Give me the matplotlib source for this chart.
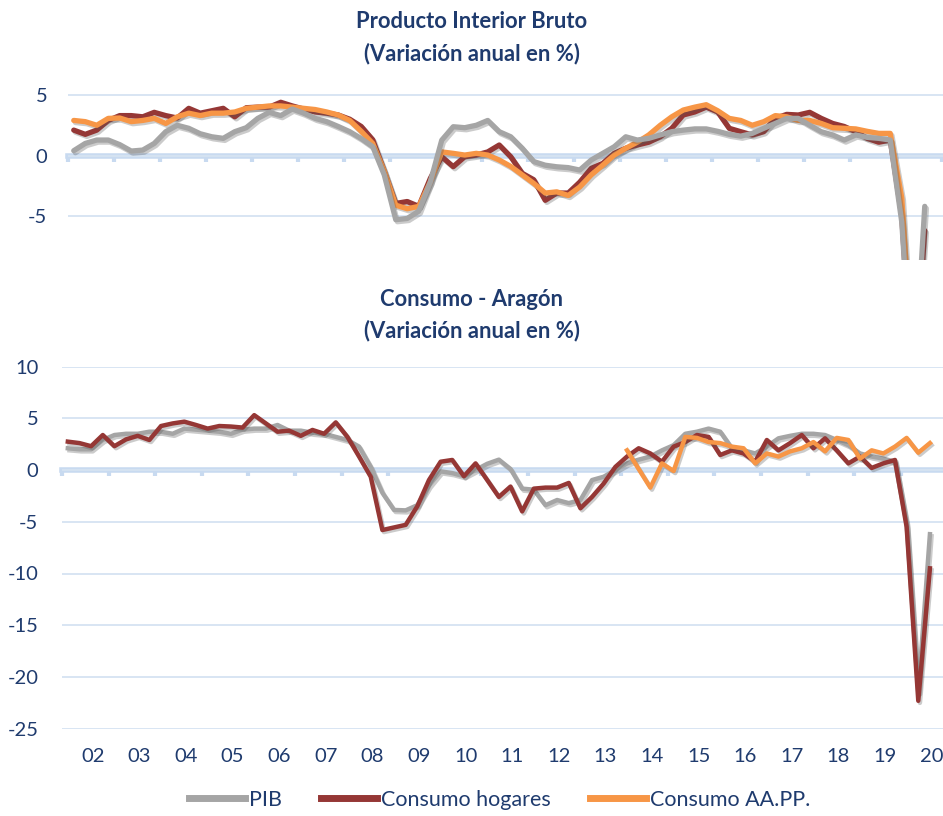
import numpy as np
import matplotlib
matplotlib.use("Agg")
import matplotlib.pyplot as plt
import matplotlib.patheffects as pe

plt.rcParams["font.family"] = ["Lato", "DejaVu Sans"]
plt.rcParams["axes.unicode_minus"] = False

# quarters 2002Q1 .. 2020Q3
years = np.repeat(np.arange(2002, 2021), 4)[:75]
quarters = np.tile(np.arange(1, 5), 19)[:75]
year_labels = ["02", "03", "04", "05", "06", "07", "08", "09", "10", "11",
               "12", "13", "14", "15", "16", "17", "18", "19", "20"]

# Producto Interior Bruto (variacion anual %)
pib_top = [0.4, 1.0, 1.28, 1.28, 0.9, 0.37, 0.45, 1.0, 1.97, 2.5, 2.25, 1.8, 1.55,
           1.42, 1.97, 2.3, 3.07, 3.57, 3.3, 3.84, 3.5, 3.07, 2.8, 2.4, 1.97,
           1.4, 0.73, -1.6, -5.3, -5.2, -4.6, -2.2, 1.27, 2.38, 2.3, 2.5, 2.9, 1.97,
           1.55, 0.6, -0.5, -0.8, -0.93, -1.0, -1.2, -0.37, 0.18, 0.73, 1.55, 1.28,
           1.42, 1.7, 1.97, 2.1, 2.2, 2.2, 2.0, 1.75, 1.6, 1.83, 2.25, 2.65, 3.07,
           3.07, 2.5, 1.97, 1.7, 1.28, 1.7, 1.5, 1.42, 1.28, -5.5, -20.0, -4.2]
hogares_top = [2.1, 1.75, 2.1, 2.9, 3.3, 3.3, 3.2, 3.57, 3.3, 3.1, 3.9, 3.5, 3.7,
               3.9, 3.2, 3.95, 4.0, 4.0, 4.4, 4.1, 3.84, 3.6, 3.5, 3.35, 3.0,
               2.4, 1.3, -1.3, -3.96, -3.8, -4.2, -1.9, -0.1, -0.92, -0.1, 0.04, 0.3,
               0.87, -0.1, -1.47, -2.0, -3.7, -3.1, -3.1, -2.2, -1.06, -0.65, 0.18,
               0.6, 0.87, 1.1, 1.55, 2.25, 3.35, 3.6, 4.0, 3.6, 2.25, 1.97, 1.7, 1.97,
               3.07, 3.4, 3.35, 3.57, 3.07, 2.65, 2.4, 1.97, 1.42, 1.1, 1.28, -5.0,
               -20.0, -6.2]
aapp_top = [2.9, 2.8, 2.5, 3.07, 3.1, 2.8, 2.9, 3.07, 2.65, 3.2, 3.5, 3.3, 3.5,
            3.5, 3.6, 3.9, 4.0, 4.1, 4.1, 4.0, 3.9, 3.8, 3.6, 3.35, 2.9,
            2.0, 1.0, -1.3, -4.1, -4.4, -4.2, -2.2, 0.3, 0.18, 0.04, 0.18, 0.04,
            -0.37, -0.9, -1.6, -2.3, -3.1, -3.0, -3.3, -2.6, -1.6, -0.8, 0.04, 0.6,
            1.1, 1.7, 2.5, 3.2, 3.76, 4.0, 4.2, 3.7, 3.07, 2.9, 2.5, 2.8, 3.3, 3.2,
            2.9, 2.9, 2.65, 2.3, 2.25, 2.2, 2.0, 1.83, 1.83, -3.5, -18.0, -12.0]

# Consumo - Aragon (variacion anual %)
pib_bot = [2.1, 2.0, 2.0, 2.9, 3.38, 3.5, 3.5, 3.7, 3.7, 3.5, 4.0, 3.9, 3.8, 3.7,
           3.5, 3.9, 4.0, 4.0, 4.35, 3.8, 3.8, 3.6, 3.5, 3.2, 2.9,
           2.26, 0.3, -2.2, -3.86, -3.9, -3.4, -1.5, -0.13, -0.3, -0.6, 0.0, 0.6,
           1.0, 0.1, -1.8, -1.9, -3.4, -2.9, -3.2, -2.9, -0.97, -0.65, 0.0, 0.64,
           1.0, 1.3, 1.9, 2.4, 3.5, 3.7, 4.0, 3.7, 2.1, 1.9, 1.6, 2.26, 3.06, 3.3,
           3.5, 3.5, 3.38, 2.9, 2.4, 1.6, 1.3, 1.1, 0.8, -5.2, -21.5, -6.2]
hogares_bot = [2.74, 2.6, 2.3, 3.38, 2.3, 2.96, 3.3, 2.9, 4.25, 4.5, 4.67, 4.35,
               4.0, 4.25, 4.2, 4.1, 5.3, 4.5, 3.7, 3.8, 3.3, 3.87, 3.5, 4.6, 3.2,
               1.3, -0.65, -5.8, -5.55, -5.3, -3.5, -0.97, 0.8, 0.97, -0.6, 0.64,
               -0.97, -2.6, -1.6, -4.0, -1.8, -1.7, -1.7, -1.25, -3.7, -2.6, -1.3,
               0.3, 1.3, 2.1, 1.6, 0.8, 2.26, 2.7, 3.38, 3.2, 1.45, 1.9, 1.6, 0.8,
               2.9, 1.9, 2.6, 3.38, 2.1, 3.06, 1.9, 0.64, 1.3, 0.2, 0.64, 0.97,
               -5.5, -22.3, -9.5]
aapp_bot = [np.nan] * 48 + [1.9, 0.1, -1.7, 0.64, -0.1, 3.2, 3.1, 2.7, 2.6, 2.26,
                            2.1, 0.64, 1.6, 1.3, 1.8, 2.1, 2.7, 1.8, 3.1, 2.9, 1.1,
                            1.9, 1.6, 2.26, 3.1, 1.67, 2.6]

x = years + (quarters - 0.5) / 4

GRAY = "#A5A5A5"
RED = "#953735"
ORANGE = "#F79646"
TXT = "#1F3B6E"
GRID = "#D6E3F2"
ZERO = "#C8DAF0"


def style_axes(ax, yticks, lw_pad):
    for s in ax.spines.values():
        s.set_visible(False)
    ax.set_yticks(yticks)
    ax.yaxis.grid(True, color=GRID, lw=1.3)
    ax.set_axisbelow(True)
    ax.tick_params(axis="y", length=0, pad=lw_pad, labelsize=14.5, labelcolor=TXT)
    # zero line with year separators
    sec = ax.secondary_xaxis(0, transform=ax.transData)
    sec.spines["bottom"].set_color(ZERO)
    sec.spines["bottom"].set_linewidth(4)
    sec.set_xticks(range(2002, 2022))
    sec.tick_params(length=4, width=3, color=ZERO, labelbottom=False)


shadow = [pe.SimpleLineShadow(offset=(1.2, -1.5), shadow_color="#555555", alpha=0.3),
          pe.Normal()]

fig = plt.figure(figsize=(9.43, 8.16), dpi=100)

# top panel
ax1 = fig.add_axes([68 / 943, 1 - 259.6 / 816, 875 / 943, 179.1 / 816])
ax1.set_xlim(2002, 2002 + 875 / 46)
ax1.set_ylim(-8.6, 6.2)
style_axes(ax1, [-5, 0, 5], 15)
ax1.set_xticks([])
for vals, col in [(pib_top, GRAY), (hogares_top, RED), (aapp_top, ORANGE)]:
    ax1.plot(x, vals, color=col, lw=3.8, solid_capstyle="round", path_effects=shadow)
# grey on top as in the original
ax1.lines[0].set_zorder(3)

# bottom panel
ax2 = fig.add_axes([62 / 943, 1 - 728.75 / 816, 881 / 943, 362.25 / 816])
ax2.set_xlim(2002, 2002 + 881 / 46.6)
ax2.set_ylim(-25, 10)
style_axes(ax2, range(-25, 11, 5), 17)
ax2.set_xticks(np.arange(2002, 2021) + 0.66)
ax2.set_xticklabels(year_labels)
ax2.tick_params(axis="x", length=0, pad=14, labelsize=14.5, labelcolor=TXT)
l1, = ax2.plot(x, pib_bot, color=GRAY, lw=3.2, label="PIB", path_effects=shadow)
l2, = ax2.plot(x, hogares_bot, color=RED, lw=3.2, label="Consumo hogares", path_effects=shadow)
l3, = ax2.plot(x, aapp_bot, color=ORANGE, lw=3.2, label="Consumo AA.PP.", path_effects=shadow)

for ypx, txt in [(22, "Producto Interior Bruto"), (54, "(Variación anual en %)"),
                 (300, "Consumo - Aragón"), (331, "(Variación anual en %)")]:
    fig.text(0.5, 1 - ypx / 816, txt, ha="center", va="center",
             fontsize=15.8, fontweight="bold", color=TXT)

leg = fig.legend([l1, l2, l3], ["PIB", "Consumo hogares", "Consumo AA.PP."],
                 loc="center", bbox_to_anchor=(0.53, 1 - 800 / 816), ncol=3,
                 frameon=False, handlelength=2.6, handletextpad=0.2,
                 columnspacing=1.8, fontsize=15.5)
for t in leg.get_texts():
    t.set_color(TXT)
for h in leg.legend_handles:
    h.set_linewidth(5)
    h.set_path_effects([])

fig.savefig("out.png", dpi=100)
